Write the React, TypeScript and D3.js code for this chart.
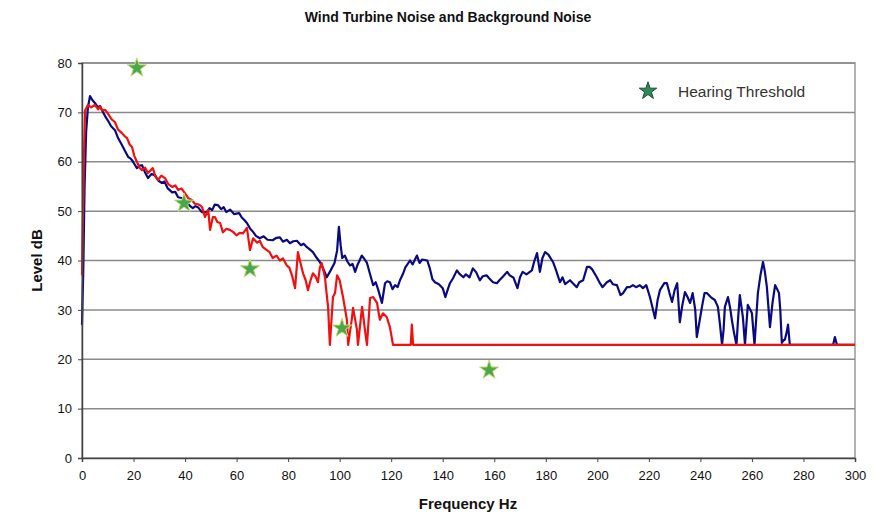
import React, { useEffect, useRef } from 'react'
import * as d3 from 'd3'

// Wind turbine spectrum (blue) - frequency Hz / level dB
const turbineHz = [
  0, 0.5, 1, 1.6, 2.3, 3.1, 4, 5, 6.2, 7, 7.8, 9, 10, 11.3, 12.8, 14, 15.5, 16.7, 17.9, 19,
  19.8, 21.3, 22.3, 23.3, 24.5, 25.6, 27, 28.3, 29.6, 31, 32, 33.3, 35, 36.2, 37.3, 39, 41, 42, 43, 44,
  45, 46.5, 48.5, 49.5, 50.5, 51.5, 52.8, 54, 55, 56, 57.5, 59, 61, 62, 63, 64, 65.2, 66.4, 67.5, 69,
  70.5, 72, 74, 75.5, 76.8, 78, 79.5, 80.7, 82, 83.4, 85, 86, 87.3, 88.5, 89.6, 91, 92.3, 93.5, 95, 96.5,
  98, 99, 99.7, 100.4, 101, 102, 103, 104, 105, 106, 107, 108.6, 109.6, 110.6, 111.8, 113, 114, 115, 116.4, 117.6,
  118.5, 119.5, 120.5, 121.5, 122.5, 123.4, 124.5, 125.5, 127.3, 128.3, 130, 131, 132, 134, 135, 136, 137, 138.5, 140, 141,
  142, 142.8, 144, 145.5, 146.5, 148, 149, 150.4, 151.7, 153, 154.4, 155.5, 157, 158, 159.5, 161, 162, 163.5, 165, 166,
  167.5, 169, 170, 171, 172.5, 174.6, 175.5, 176.6, 177.7, 178.7, 179.7, 181, 182.8, 184, 185.5, 186.5, 187.5, 189.4, 190.5, 192,
  193, 194.5, 196, 197, 198, 199.8, 201, 202, 203.7, 205, 206, 207.6, 209, 210, 211.5, 212.6, 213.8, 215, 216.5, 217.7,
  219, 220.4, 221.4, 222.4, 223.4, 224.3, 226, 227, 228, 229, 230, 231, 232, 233, 234, 235, 236, 237, 238, 238.6,
  239.6, 240.6, 241.6, 242.5, 244, 245.6, 246.8, 247.6, 248.4, 249, 249.5, 250.7, 251.5, 252.2, 253, 254, 254.6, 255.3, 256.5, 257.3,
  258.4, 259.2, 260, 261, 262.3, 263.3, 264.3, 265, 265.8, 267, 268, 269, 269.8, 270.5, 271, 271.6, 272.2, 272.8, 273.5, 274,
  274.7, 291.5, 292.2, 293, 300,
]
const turbineDb = [
  27, 38, 55, 66, 71, 73.3, 72.5, 71.9, 71, 71.3, 70.4, 69.2, 68.4, 67.2, 66.4, 64.8, 63.4, 62.2, 61, 60.6,
  60, 58.7, 59.2, 59.3, 57.8, 56.7, 57.5, 57.3, 56.2, 55.7, 56, 54.6, 53.8, 53.9, 52.8, 52.6, 51.6, 51, 50.6, 51,
  50.8, 49.8, 49.8, 50.6, 50.2, 51.3, 51.2, 50.4, 50.8, 49.8, 50.3, 49.4, 49.6, 48.7, 48.2, 47.6, 46.5, 45.8, 45, 44.5,
  44.9, 44.2, 44.1, 44.6, 44.7, 43.8, 44.2, 43.5, 43.9, 44, 43.1, 43.4, 42.7, 42.2, 41.7, 40.6, 39.7, 38.5, 36.6, 38,
  39.5, 42, 46.8, 43, 40.5, 41, 39.8, 39, 39.3, 37.7, 39.2, 41, 40.3, 39.5, 37.2, 35, 35.6, 34, 31.4, 35.4,
  35.8, 35.6, 34.2, 35, 34.6, 36, 37.2, 38.6, 40, 39.2, 41, 39.5, 40.2, 40, 38.4, 36.2, 35.6, 35.2, 34.4, 32.6,
  34.2, 35.4, 36.4, 38, 37.3, 36.6, 37.2, 36.6, 38.4, 37.6, 36, 36.8, 37, 36.4, 35.6, 35.4, 36, 36.8, 37.7, 37,
  36.5, 34.4, 36.6, 37.7, 37.2, 38, 39.8, 41.5, 37.7, 40.5, 41.7, 41.2, 39.7, 38, 35.6, 36.6, 35.2, 36, 35.4, 34.6,
  35.6, 36, 38.7, 38.7, 38.2, 36.6, 35.4, 34.6, 35.6, 36, 35.2, 35, 33, 33.4, 34.6, 34.6, 35, 34.6, 35, 34.4,
  35, 32.6, 30.5, 28.3, 32, 34, 35.4, 35.4, 33.4, 31.6, 34, 35.4, 27.5, 31, 33.6, 32.6, 31.4, 33.4, 30, 24.5,
  27.5, 30.6, 33.4, 33.4, 32.6, 32, 30.6, 27, 22.9, 26, 30.6, 32.6, 30.5, 28, 25.5, 22.9, 28, 33, 28.5, 22.9,
  31, 30.2, 29.3, 22.9, 33.4, 37, 39.7, 37.8, 34.6, 26.5, 31.5, 35, 34.2, 33.4, 30, 23.3, 23.8, 24, 25.5, 27,
  22.9, 22.9, 24.5, 22.9, 22.9,
]

// Background noise spectrum (red)
const backgroundHz = [
  0, 0.4, 0.8, 1.2, 2.3, 3.5, 5, 6.3, 7, 7.8, 9, 10, 11.5, 12.8, 14, 15.5, 16.5, 17.5, 18.5, 19.4,
  20.3, 21.3, 22.3, 23.3, 24.5, 25.6, 26.5, 27.5, 28.5, 29.5, 30.8, 32.2, 33.6, 35, 36.2, 37.3, 38.6, 40, 41.3, 42.7,
  43.8, 45, 45.8, 46.6, 47.7, 49, 49.7, 50.8, 51.6, 52.5, 53.6, 54.7, 56, 57.4, 58.6, 60, 61.2, 62.5, 64, 65.2,
  66.4, 68, 69, 70.2, 71.5, 72.8, 74, 75.5, 76.8, 78, 79.5, 80.5, 81.5, 82.7, 83.8, 84.8, 85.8, 86.8, 87.7, 88.7,
  89.6, 90.6, 91.6, 92.3, 93, 94.3, 95, 95.5, 96.2, 97.4, 98.2, 99, 100, 101.3, 102.8, 103.3, 104.8, 105.2, 106.7, 107.1,
  108.7, 109.8, 110.6, 111.8, 113, 114.5, 115.6, 116.8, 118.3, 119.5, 120.7, 127.6, 128, 128.5, 300,
]
const backgroundDb = [
  37, 48.8, 62, 70.4, 71.5, 71, 71.5, 70.6, 71.2, 70.4, 70.5, 69.8, 68.6, 68, 66.5, 65.8, 65.2, 64.8, 63.5, 63,
  61.2, 60, 58.8, 58.3, 58.8, 57.7, 58.2, 58.7, 57, 56.3, 57.2, 56.7, 55.4, 54.9, 55.2, 54.3, 54.6, 53.6, 52.6, 52.2,
  51.5, 51.4, 51.2, 50.8, 48.8, 50.2, 46.2, 48.8, 48.8, 47.8, 47.6, 45.7, 46.4, 46.2, 45.8, 45.1, 45.6, 45.5, 46.6, 42.1,
  44.5, 43.6, 44, 42.7, 42.2, 41.7, 40.5, 41, 40, 40.4, 39, 38.5, 37, 34.4, 41.7, 39.5, 37.4, 36, 34, 36,
  37.4, 36.8, 35.6, 38.5, 39.5, 36.6, 33, 30.6, 22.9, 32.6, 33.4, 37, 36, 32.6, 28, 22.9, 28.5, 30.4, 26, 22.9,
  30.6, 26, 22.9, 32.4, 32.6, 31.4, 28, 29.3, 28.5, 26.5, 22.9, 22.9, 27, 22.9, 22.9,
]

// Hearing threshold points
const thresholdHz = [21.3, 39.6, 65.2, 100.9, 158]
const thresholdDb = [79, 51.6, 38.3, 26.3, 17.8]

const xTicks = [0, 20, 40, 60, 80, 100, 120, 140, 160, 180, 200, 220, 240, 260, 280, 300]
const yTicks = [0, 10, 20, 30, 40, 50, 60, 70, 80]

const W = 877
const H = 517
const margin = { top: 63, right: 22, bottom: 59, left: 82 }
const FONT = 'Liberation Sans, Arial, sans-serif'

export default function App() {
  const xAxisRef = useRef<SVGGElement>(null)
  const yAxisRef = useRef<SVGGElement>(null)

  const x = d3.scaleLinear().domain([0, 300]).range([margin.left, W - margin.right])
  const y = d3.scaleLinear().domain([0, 80]).range([H - margin.bottom, margin.top])

  const line = d3
    .line<[number, number]>()
    .x(d => x(d[0]))
    .y(d => y(d[1]))

  const turbine = turbineHz.map((f, i) => [f, turbineDb[i]] as [number, number])
  const background = backgroundHz.map((f, i) => [f, backgroundDb[i]] as [number, number])

  const star = d3.symbol().type(d3.symbolStar)

  useEffect(() => {
    const gx = d3.select(xAxisRef.current!)
    gx.call(d3.axisBottom(x).tickValues(xTicks).tickSize(4).tickPadding(9))
    gx.select('.domain').attr('stroke', '#444').attr('stroke-width', 1.5)
    gx.selectAll('.tick line').attr('stroke', '#444')
    gx.selectAll('.tick text')
      .attr('font-size', 13)
      .attr('font-family', FONT)
      .attr('font-weight', 500)
      .attr('fill', '#111')

    const gy = d3.select(yAxisRef.current!)
    gy.call(d3.axisLeft(y).tickValues(yTicks).tickSize(4).tickPadding(6))
    gy.select('.domain').attr('stroke', '#444').attr('stroke-width', 1.5)
    gy.selectAll('.tick line').attr('stroke', '#444')
    gy.selectAll('.tick text')
      .attr('font-size', 13)
      .attr('font-family', FONT)
      .attr('fill', '#111')
  }, [])

  return (
    <svg
      width={W}
      height={H}
      style={{ position: 'absolute', left: 0, top: 0, background: '#fff' }}
    >
      <text
        x={448}
        y={22}
        textAnchor="middle"
        fontFamily={FONT}
        fontSize={14}
        fontWeight={600}
        fill="#111"
      >
        Wind Turbine Noise and Background Noise
      </text>

      <rect
        x={margin.left}
        y={margin.top}
        width={W - margin.left - margin.right}
        height={H - margin.top - margin.bottom}
        fill="none"
        stroke="#999"
        strokeWidth={1.5}
      />
      {yTicks.slice(1).map(t => (
        <line
          key={t}
          x1={margin.left}
          x2={W - margin.right}
          y1={y(t)}
          y2={y(t)}
          stroke="#8a8a8a"
          strokeWidth={1.5}
        />
      ))}

      <path d={line(turbine) || ''} fill="none" stroke="#0a0a80" strokeWidth={2.2} strokeLinejoin="round" />
      <path d={line(background) || ''} fill="none" stroke="#f01010" strokeWidth={2.2} strokeLinejoin="round" />

      {thresholdHz.map((f, i) => (
        <path
          key={i}
          d={star.size(115)() || ''}
          transform={`translate(${x(f)},${y(thresholdDb[i])})`}
          fill="#4aa84a"
          stroke="#c9dc7a"
          strokeWidth={1}
        />
      ))}

      <g ref={xAxisRef} transform={`translate(0,${H - margin.bottom})`} />
      <g ref={yAxisRef} transform={`translate(${margin.left},0)`} />

      <text
        x={468}
        y={509}
        textAnchor="middle"
        fontFamily={FONT}
        fontSize={15}
        fontWeight="bold"
        fill="#111"
      >
        Frequency Hz
      </text>
      <text
        transform={`translate(42,${(margin.top + H - margin.bottom) / 2}) rotate(-90)`}
        textAnchor="middle"
        fontFamily={FONT}
        fontSize={15}
        fontWeight="bold"
        fill="#111"
      >
        Level dB
      </text>

      <path
        d={star.size(95)() || ''}
        transform="translate(648,91)"
        fill="#2e8b57"
        stroke="#1d4d33"
        strokeWidth={1}
      />
      <text x={678} y={97} fontFamily={FONT} fontSize={15.5} fill="#333">
        Hearing Threshold
      </text>
    </svg>
  )
}
